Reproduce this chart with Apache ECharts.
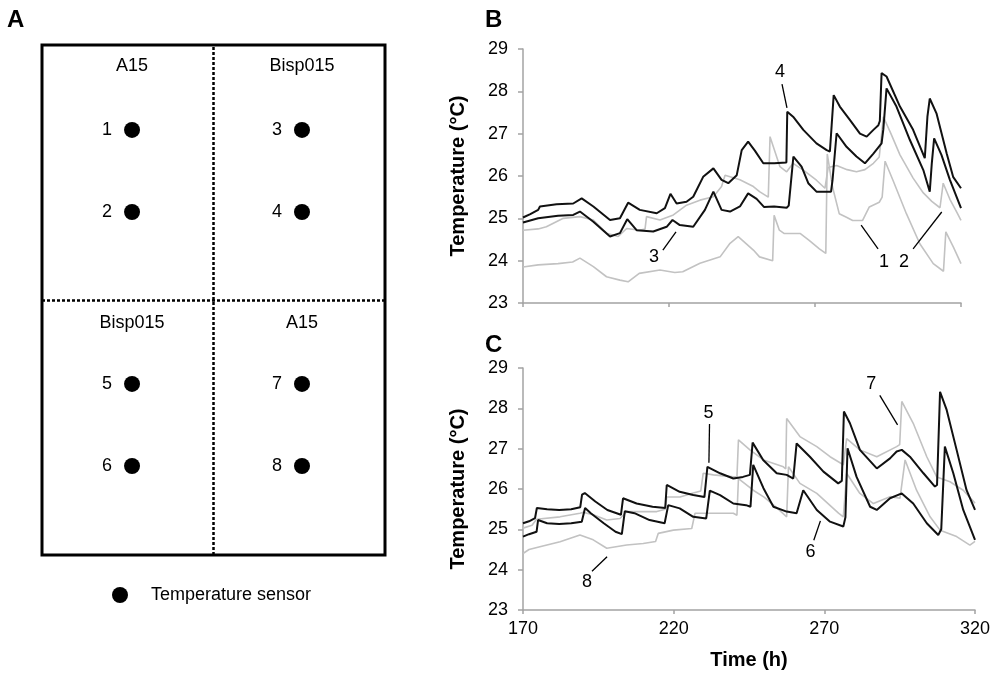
<!DOCTYPE html>
<html>
<head>
<meta charset="utf-8">
<script src="https://cdn.jsdelivr.net/npm/echarts@6/dist/echarts.min.js"></script>
<style>html,body{margin:0;padding:0;background:#fff}#chart{width:997px;height:673px}</style>
</head>
<body>
<div id="chart"></div>
<script>
// ---------- DATA ----------
const xTicksMin = 170, xTicksMax = 320, xTickStep = 50;
const yTicksMin = 23, yTicksMax = 29, yTickStep = 1;
const yName = 'Temperature (°C)';
const xName = 'Time (h)';
const legendName = 'Temperature sensor';

// Panel A layout (zone labels and sensors, in a 2x2 cell space)
const zoneLabels = [[0.525, 1.918, 'A15'], [1.516, 1.918, 'Bisp015'], [0.525, 0.91, 'Bisp015'], [1.516, 0.91, 'A15']];
const sensors = [[0.525, 1.667, '1'], [0.525, 1.345, '2'], [1.516, 1.667, '3'], [1.516, 1.345, '4'],
                 [0.525, 0.671, '5'], [0.525, 0.349, '6'], [1.516, 0.671, '7'], [1.516, 0.349, '8']];

// Panel B : sensors 1,2 (A15, grey) and 3,4 (Bisp015, black)  [hour, °C]
const sensor1 = [[170,23.85],[175.2,23.9],[182,23.93],[187,23.97],[189.5,24.06],[194.1,23.86],[198.6,23.62],[203.2,23.54],[206,23.5],[209.8,23.7],[216.9,23.78],[222,23.72],[224.7,23.74],[230.6,23.94],[237.5,24.09],[240.9,24.41],[243.7,24.57],[248.9,24.25],[251.0,24.09],[255.5,24.0],[256.0,25.07],[257.8,24.72],[259.5,24.64],[265,24.64],[268,24.48],[271.5,24.28],[273.7,24.17],[274.2,26.52],[276.0,25.74],[278.3,25.11],[280.6,25.03],[282.9,24.95],[286.3,24.95],[288.6,25.27],[292.0,25.38],[293.0,25.5],[294.0,26.35],[296.7,25.9],[301.3,25.11],[305.9,24.4],[310.5,23.93],[314.0,23.75],[314.8,24.68],[317.4,24.32],[320,23.93]];
const sensor2 = [[170,24.72],[175.2,24.75],[178,24.8],[183.8,25.0],[189.5,25.04],[194.1,24.96],[198.6,24.65],[202.6,24.57],[205.5,24.76],[210.0,24.72],[211.8,24.75],[212.3,25.04],[216.9,24.96],[221.5,25.08],[226.0,25.31],[230.6,25.43],[235.2,25.51],[238.0,25.75],[239.2,26.02],[244.3,25.91],[248.9,25.75],[251.0,25.63],[254.0,25.5],[254.6,26.93],[258.0,26.22],[260.3,26.1],[262.5,26.3],[266.0,26.14],[270.5,25.9],[273.4,25.71],[274.5,26.2],[277.4,26.25],[281.0,26.15],[284.2,26.1],[287.1,26.15],[290.0,26.3],[292.0,26.45],[293.4,27.4],[296.0,27.0],[299.1,26.5],[303.6,25.95],[307.1,25.6],[310.0,25.4],[312.8,25.25],[313.9,25.83],[316.2,25.45],[318.5,25.15],[320,24.95]];
const sensor3 = [[170,24.9],[175.2,25.0],[175.8,25.04],[182,25.06],[187.2,25.08],[189.5,25.16],[194.1,24.92],[199.8,24.57],[203.2,24.65],[205.7,24.98],[208.9,24.72],[214.6,24.69],[219.2,24.8],[221.2,24.96],[223.7,24.84],[228.3,24.8],[232.3,25.2],[235.2,25.63],[238.0,25.2],[240.9,25.16],[244.3,25.28],[247.1,25.59],[250,25.46],[252.5,25.27],[256,25.28],[260.3,25.25],[261.0,25.3],[262.6,26.46],[265.4,26.22],[267.7,25.83],[270.5,25.63],[275.5,25.63],[276.0,25.9],[277.4,27.01],[280.8,26.69],[284.2,26.46],[287.1,26.3],[290.0,26.53],[292.8,26.77],[293.4,27.1],[294.5,28.07],[297.9,27.64],[302.5,26.85],[307.1,26.14],[309.3,25.63],[310.0,26.3],[310.8,26.89],[313.3,26.5],[316.2,25.91],[320,25.24]];
const sensor4 = [[170,25.02],[172.5,25.1],[175.2,25.2],[175.8,25.28],[181.5,25.33],[187.2,25.35],[190.1,25.47],[194.1,25.28],[199.8,24.96],[203.2,25.0],[206.0,25.37],[210.0,25.2],[215.8,25.12],[218.6,25.24],[220.5,25.58],[222.6,25.35],[226.0,25.39],[228.3,25.51],[231.7,25.98],[235.2,26.18],[238.0,25.91],[240.3,25.83],[243.2,26.02],[244.9,26.61],[247.1,26.81],[249.4,26.6],[252.3,26.3],[256.0,26.3],[260.2,26.32],[260.5,27.52],[262.5,27.4],[266.0,27.09],[270.5,26.77],[274.0,26.61],[275.1,26.58],[276.4,27.91],[278.5,27.64],[282.0,27.32],[285.4,27.0],[287.7,26.93],[290.0,27.09],[291.7,27.2],[292.2,27.3],[292.8,28.43],[294.5,28.35],[299.1,27.64],[303.6,27.09],[307.6,26.42],[308.5,27.4],[309.3,27.83],[311.6,27.48],[315.1,26.53],[317.3,25.98],[320,25.71]];

// Panel C : sensors 5,6 (Bisp015, black) and 7,8 (A15, grey)
const sensor5 = [[170,25.15],[172,25.2],[174.0,25.28],[174.6,25.53],[178,25.5],[182,25.48],[186,25.5],[189.0,25.55],[189.6,25.86],[190.5,25.9],[194,25.69],[198,25.48],[202.5,25.36],[203.2,25.77],[207.7,25.64],[213,25.56],[217.2,25.53],[217.7,26.1],[222,25.93],[226.5,25.85],[230.2,25.8],[231.2,26.55],[235.4,26.39],[239.8,26.26],[243,26.3],[245.3,26.35],[246.2,27.15],[249.7,26.72],[254.2,26.39],[257.5,26.35],[259.7,26.26],[260.8,27.13],[261.4,27.15],[265.2,26.8],[269.7,26.43],[274.6,26.14],[275.8,26.2],[276.5,27.92],[278.5,27.63],[281.8,26.97],[287.4,26.51],[291.8,26.76],[294.0,26.93],[295.7,26.97],[298.4,26.8],[302.9,26.39],[306.7,26.06],[307.4,26.1],[308.4,28.41],[310.6,27.96],[313.9,26.97],[317.2,25.97],[320,25.48]];
const sensor6 = [[170,24.82],[172,24.88],[174.5,24.94],[175.0,25.23],[178,25.15],[182,25.13],[186,25.15],[189.5,25.19],[190.6,25.53],[192.5,25.4],[196.8,25.15],[200.7,24.94],[202.8,24.88],[203.8,25.45],[207,25.4],[212,25.23],[217,25.15],[218.2,25.6],[222,25.52],[226.5,25.31],[230.8,25.27],[232.0,25.96],[235.4,25.85],[239.8,25.64],[244,25.6],[245.5,25.56],[246.4,26.6],[249.8,26.02],[253.1,25.56],[257.5,25.44],[260.8,25.4],[263.0,25.97],[267.5,25.48],[271.9,25.19],[276.3,25.07],[277.0,25.3],[277.7,27.01],[280.7,26.3],[285.2,25.56],[287.4,25.48],[291.8,25.77],[295.7,25.89],[299.5,25.64],[304.0,25.15],[307.8,24.86],[308.8,25.0],[310.0,27.05],[312.8,26.39],[316.1,25.48],[320,24.74]];
const sensor7 = [[170,25.03],[173,25.1],[174.5,25.25],[182.3,25.31],[188.9,25.4],[190,25.42],[193.3,25.36],[197.8,25.23],[202.2,25.27],[204.4,25.44],[208.8,25.44],[214.4,25.44],[217.2,25.5],[217.7,25.8],[222.1,25.8],[226.5,25.9],[229.0,25.95],[229.8,26.39],[233.2,26.35],[239.8,26.3],[241.0,26.3],[241.5,27.22],[245.3,26.97],[249.8,26.72],[256.4,26.55],[257.2,26.5],[257.5,27.75],[261.9,27.3],[267.5,27.05],[271.9,26.8],[276.3,26.6],[277.4,27.25],[281.8,26.97],[287.4,26.8],[294.0,27.05],[295.0,27.1],[295.7,28.17],[299.5,27.63],[304.0,26.8],[307.3,26.3],[311.7,26.18],[316.1,25.97],[320,25.65]];
const sensor8 = [[170,24.4],[172,24.5],[175.6,24.57],[182.3,24.69],[188.9,24.86],[193.3,24.74],[197.8,24.53],[204.4,24.61],[209.9,24.65],[214,24.7],[214.9,24.9],[219.9,24.98],[226,25.02],[227.1,25.4],[233.2,25.4],[239.8,25.4],[241.0,25.35],[241.5,26.26],[246.4,25.97],[250,25.8],[254,25.55],[257.5,25.31],[258.1,26.55],[261.9,26.14],[267.5,25.89],[274.7,25.4],[276.3,25.31],[277.4,26.39],[281.8,25.89],[286.3,25.64],[291.8,25.81],[295.1,25.77],[296.8,26.72],[300.6,25.97],[305.1,25.31],[308.4,24.98],[313.9,24.82],[318.3,24.61],[320,24.7]];

// Sensor number callouts (text anchor and leader line, in data units)
const bCallouts = [['4', 258.0, 28.46], ['3', 214.9, 24.09], ['1', 293.6, 23.97], ['2', 300.5, 23.97]];
const bLeaders = [[[258.7,28.17],[260.4,27.61]], [[217.9,24.25],[222.4,24.68]], [[291.6,24.28],[285.8,24.84]], [[303.6,24.28],[313.4,25.15]]];
const cCallouts = [['5', 231.6, 27.88], ['6', 265.4, 24.44], ['7', 285.6, 28.61], ['8', 191.2, 23.69]];
const cLeaders = [[[231.9,27.61],[231.7,26.65]], [[266.5,24.73],[268.7,25.21]], [[288.4,28.32],[294.3,27.59]], [[192.9,23.96],[197.9,24.32]]];

// ---------- CHART ----------
const FONT = '"Liberation Sans", Arial, sans-serif';
const BLACK = '#111111', GREY = '#c2c2c2', AXIS = '#a3a3a3';
const chart = echarts.init(document.getElementById('chart'), null, {renderer: 'canvas'});

function valueX(idx, showLabels, withName) {
  return {
    type: 'value', gridIndex: idx, min: xTicksMin, max: xTicksMax, interval: xTickStep,
    axisLine: {show: true, lineStyle: {color: AXIS, width: 1.5}},
    axisTick: {show: true, length: 4, lineStyle: {color: AXIS, width: 1.5}},
    axisLabel: {show: showLabels, fontSize: 18, color: '#000', fontFamily: FONT, margin: 10},
    splitLine: {show: false},
    name: withName ? xName : '', nameLocation: 'middle', nameGap: 40,
    nameTextStyle: {fontSize: 20, fontWeight: 'bold', color: '#000', fontFamily: FONT}
  };
}
function valueY(idx) {
  return {
    type: 'value', gridIndex: idx, min: yTicksMin, max: yTicksMax, interval: yTickStep,
    axisLine: {show: true, lineStyle: {color: AXIS, width: 1.5}},
    axisTick: {show: true, length: 5, lineStyle: {color: AXIS, width: 1.5}},
    axisLabel: {fontSize: 18, color: '#000', fontFamily: FONT, margin: 15},
    splitLine: {show: false},
    name: yName, nameLocation: 'middle', nameGap: 55, nameRotate: 90,
    nameTextStyle: {fontSize: 20, fontWeight: 'bold', color: '#000', fontFamily: FONT}
  };
}
function line(name, data, ax, color, width, z) {
  return {name, type: 'line', data, xAxisIndex: ax, yAxisIndex: ax, showSymbol: false, symbol: 'none',
    lineStyle: {color, width}, itemStyle: {color}, z, silent: true};
}
function callouts(list, ax) {
  return {type: 'scatter', xAxisIndex: ax, yAxisIndex: ax, symbolSize: 0, silent: true, z: 5,
    itemStyle: {color: '#000', opacity: 1},
    data: list.map(c => [c[1], c[2], c[0]]),
    label: {show: true, position: 'inside', formatter: p => p.value[2], fontSize: 18, color: '#000', fontFamily: FONT}};
}
function leaders(list, ax) {
  return {type: 'lines', coordinateSystem: 'cartesian2d', xAxisIndex: ax, yAxisIndex: ax, silent: true, z: 5,
    lineStyle: {color: '#000', width: 1.3, opacity: 1}, data: list.map(l => ({coords: l}))};
}

const option = {
  animation: false,
  backgroundColor: '#fff',
  title: [
    {text: 'A', left: 7, top: 8, padding: 0, textStyle: {fontSize: 24, fontWeight: 'bold', color: '#000', fontFamily: FONT}},
    {text: 'B', left: 485, top: 8, padding: 0, textStyle: {fontSize: 24, fontWeight: 'bold', color: '#000', fontFamily: FONT}},
    {text: 'C', left: 485, top: 333, padding: 0, textStyle: {fontSize: 24, fontWeight: 'bold', color: '#000', fontFamily: FONT}}
  ],
  legend: {data: [legendName], left: 112, top: 586, padding: 0, icon: 'circle', itemWidth: 16, itemHeight: 16,
    selectedMode: false, itemStyle: {opacity: 1, color: '#000'},
    textStyle: {fontSize: 18, color: '#000', fontFamily: FONT, padding: [0, 0, 0, 18]}},
  grid: [
    {left: 523, top: 49, width: 438, height: 254},
    {left: 523, top: 368, width: 452, height: 242},
    {left: 42, top: 45, width: 343, height: 510, show: true, borderColor: '#000', borderWidth: 3, backgroundColor: 'transparent'}
  ],
  xAxis: [valueX(0, false, false), valueX(1, true, true),
    {type: 'value', gridIndex: 2, min: 0, max: 2, show: false}],
  yAxis: [valueY(0), valueY(1),
    {type: 'value', gridIndex: 2, min: 0, max: 2, show: false}],
  series: [
    line('1', sensor1, 0, GREY, 1.6, 2),
    line('2', sensor2, 0, GREY, 1.6, 2),
    line('3', sensor3, 0, BLACK, 2, 3),
    line('4', sensor4, 0, BLACK, 2, 3),
    line('7', sensor7, 1, GREY, 1.6, 2),
    line('8', sensor8, 1, GREY, 1.6, 2),
    line('5', sensor5, 1, BLACK, 2, 3),
    line('6', sensor6, 1, BLACK, 2, 3),
    callouts(bCallouts, 0), leaders(bLeaders, 0),
    callouts(cCallouts, 1), leaders(cLeaders, 1),
    {type: 'scatter', xAxisIndex: 2, yAxisIndex: 2, symbolSize: 0, silent: true,
      itemStyle: {color: '#000', opacity: 1},
      data: zoneLabels.map(z => [z[0], z[1], z[2]]),
      label: {show: true, position: 'inside', formatter: p => p.value[2], fontSize: 18, color: '#000', fontFamily: FONT},
      markLine: {silent: true, symbol: 'none', label: {show: false},
        lineStyle: {color: '#000', width: 2.5, type: [3, 2]},
        data: [{xAxis: 1}, {yAxis: 1}]}},
    {name: legendName, type: 'scatter', xAxisIndex: 2, yAxisIndex: 2, symbol: 'circle', symbolSize: 16, silent: true,
      itemStyle: {color: '#000', opacity: 1},
      data: sensors.map(s => [s[0], s[1], s[2]]),
      label: {show: true, position: 'left', distance: 12, formatter: p => p.value[2], fontSize: 18, color: '#000', fontFamily: FONT}}
  ]
};
chart.setOption(option);
</script>
</body>
</html>
